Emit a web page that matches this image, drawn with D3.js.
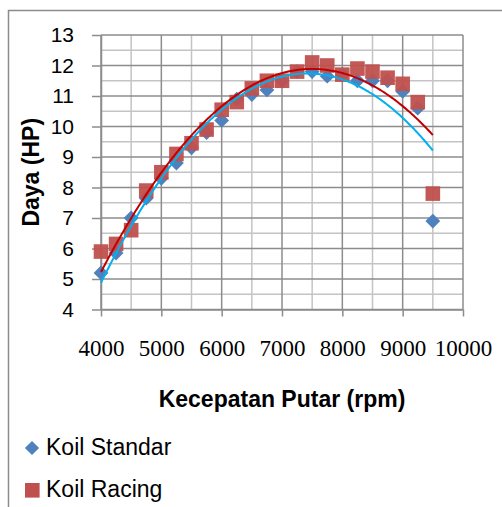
<!DOCTYPE html>
<html>
<head>
<meta charset="utf-8">
<script src="https://cdn.jsdelivr.net/npm/d3@7"></script>
<style>
  body { margin: 0; background: #fff; }
  text { fill: #000; }
</style>
</head>
<body>
<div id="chart"></div>
<script>
// data
const rpm = [4000, 4250, 4500, 4750, 5000, 5250, 5500, 5750, 6000, 6250, 6500, 6750,
             7000, 7250, 7500, 7750, 8000, 8250, 8500, 8750, 9000, 9250, 9500];
const koilStandar = [5.2, 5.85, 7.0, 7.65, 8.3, 8.8, 9.3, 9.8, 10.2, 10.9, 11.05, 11.2,
                     11.5, 11.8, 11.8, 11.65, 11.7, 11.5, 11.5, 11.5, 11.15, 10.6, 6.9];
const koilRacing = [5.9, 6.15, 6.6, 7.9, 8.5, 9.1, 9.45, 9.9, 10.55, 10.8, 11.25, 11.5,
                    11.5, 11.8, 12.1, 12.0, 11.7, 11.9, 11.8, 11.6, 11.4, 10.8, 7.8];
const seriesNames = ['Koil Standar', 'Koil Racing'];
const xTicks = [4000, 5000, 6000, 7000, 8000, 9000, 10000];
const xMinor = [4500, 5500, 6500, 7500, 8500, 9500];
const yTicks = [4, 5, 6, 7, 8, 9, 10, 11, 12, 13];
const yMinor = [4.5, 5.5, 6.5, 7.5, 8.5, 9.5, 10.5, 11.5, 12.5];

const width = 502, height = 507;
const m = {left: 101, right: 463, top: 35, bottom: 309.5};

const svg = d3.select('#chart').append('svg')
    .attr('width', width)
    .attr('height', height);

// chart frame (runs off the right and bottom edges)
svg.append('rect')
    .attr('x', 8.5).attr('y', 10.5)
    .attr('width', 600).attr('height', 600)
    .attr('fill', 'none')
    .attr('stroke', '#8c8c8c')
    .attr('stroke-width', 1.5);

const x = d3.scaleLinear().domain([4000, 10000]).range([m.left, m.right]);
const y = d3.scaleLinear().domain([4, 13]).range([m.bottom, m.top]);

// minor grid
const grid = svg.append('g');
grid.selectAll('.vmin').data(xMinor).enter().append('line')
    .attr('x1', d => x(d)).attr('x2', d => x(d))
    .attr('y1', m.top).attr('y2', m.bottom)
    .attr('stroke', '#c4c4c4').attr('stroke-width', 1.5);
grid.selectAll('.hmin').data(yMinor).enter().append('line')
    .attr('x1', m.left).attr('x2', m.right)
    .attr('y1', d => y(d)).attr('y2', d => y(d))
    .attr('stroke', '#c4c4c4').attr('stroke-width', 1.5);
// major grid
grid.selectAll('.vmaj').data(xTicks).enter().append('line')
    .attr('x1', d => x(d)).attr('x2', d => x(d))
    .attr('y1', m.top).attr('y2', m.bottom)
    .attr('stroke', '#8c8c8c').attr('stroke-width', 1.5);
grid.selectAll('.hmaj').data(yTicks).enter().append('line')
    .attr('x1', m.left).attr('x2', m.right)
    .attr('y1', d => y(d)).attr('y2', d => y(d))
    .attr('stroke', '#8c8c8c').attr('stroke-width', 1.5);

// axes
const xAxis = svg.append('g')
    .attr('transform', `translate(0,${m.bottom})`)
    .call(d3.axisBottom(x).tickValues(xTicks).tickSize(7).tickSizeOuter(0).tickFormat(d3.format('d')));
xAxis.select('.domain').attr('stroke', '#8c8c8c').attr('stroke-width', 1.5);
xAxis.selectAll('line').attr('stroke', '#8c8c8c').attr('stroke-width', 1.5);
xAxis.selectAll('text')
    .attr('y', 46).attr('dy', 0)
    .style('font-family', '"Liberation Serif", serif')
    .style('font-size', '23px');

const yAxis = svg.append('g')
    .attr('transform', `translate(${m.left},0)`)
    .call(d3.axisLeft(y).tickValues(yTicks).tickSize(9).tickSizeOuter(0).tickPadding(18));
yAxis.select('.domain').attr('stroke', '#8c8c8c').attr('stroke-width', 1.5);
yAxis.selectAll('line').attr('stroke', '#8c8c8c').attr('stroke-width', 1.5);
yAxis.selectAll('text')
    .style('font-family', '"Liberation Sans", Arial, sans-serif')
    .style('font-size', '21px');

// titles
svg.append('text')
    .attr('x', 282).attr('y', 407)
    .attr('text-anchor', 'middle')
    .style('font-family', '"Liberation Sans", Arial, sans-serif')
    .style('font-weight', 'bold')
    .style('font-size', '23px')
    .text('Kecepatan Putar (rpm)');

svg.append('text')
    .attr('transform', `translate(39,${(m.top + m.bottom) / 2}) rotate(-90)`)
    .attr('text-anchor', 'middle')
    .style('font-family', '"Liberation Sans", Arial, sans-serif')
    .style('font-weight', 'bold')
    .style('font-size', '23px')
    .text('Daya (HP)');

// quadratic least-squares trendline (as the spreadsheet does)
function polyFit(xs, ys) {
    const u = xs.map(v => v / 1000);
    const s = [0, 0, 0, 0, 0], t = [0, 0, 0];
    u.forEach((v, i) => {
        for (let k = 0; k < 5; k++) s[k] += Math.pow(v, k);
        for (let k = 0; k < 3; k++) t[k] += Math.pow(v, k) * ys[i];
    });
    const A = [[s[0], s[1], s[2], t[0]], [s[1], s[2], s[3], t[1]], [s[2], s[3], s[4], t[2]]];
    for (let c = 0; c < 3; c++) {
        for (let r = c + 1; r < 3; r++) {
            const f = A[r][c] / A[c][c];
            for (let k = c; k < 4; k++) A[r][k] -= f * A[c][k];
        }
    }
    const b = [0, 0, 0];
    for (let r = 2; r >= 0; r--) {
        let sum = A[r][3];
        for (let k = r + 1; k < 3; k++) sum -= A[r][k] * b[k];
        b[r] = sum / A[r][r];
    }
    return v => b[0] + b[1] * (v / 1000) + b[2] * Math.pow(v / 1000, 2);
}

const line = d3.line().x(d => x(d[0])).y(d => y(d[1]));
function trend(vals) {
    const f = polyFit(rpm, vals);
    return d3.range(rpm[0], rpm[rpm.length - 1] + 1, 25).map(v => [v, f(v)]);
}

// Koil Standar markers
svg.append('g').selectAll('path')
    .data(rpm.map((r, i) => [r, koilStandar[i]]))
    .enter().append('path')
    .attr('d', d3.symbol().type(d3.symbolSquare).size(110))
    .attr('transform', d => `translate(${x(d[0])},${y(d[1])}) rotate(45)`)
    .attr('fill', '#4f81bd');

// Koil Racing markers
svg.append('g').selectAll('rect')
    .data(rpm.map((r, i) => [r, koilRacing[i]]))
    .enter().append('rect')
    .attr('x', d => x(d[0]) - 7.3).attr('y', d => y(d[1]) - 7.3)
    .attr('width', 14.6).attr('height', 14.6)
    .attr('fill', '#c0504d')
    .attr('opacity', 0.95);

// trendlines
svg.append('path')
    .datum(trend(koilStandar))
    .attr('d', line)
    .attr('fill', 'none')
    .attr('stroke', '#00b0f0')
    .attr('stroke-width', 2);
svg.append('path')
    .datum(trend(koilRacing))
    .attr('d', line)
    .attr('fill', 'none')
    .attr('stroke', '#c00000')
    .attr('stroke-width', 2);

// legend
const legend = svg.append('g');
legend.append('path')
    .attr('d', d3.symbol().type(d3.symbolSquare).size(100))
    .attr('transform', 'translate(32,448) rotate(45)')
    .attr('fill', '#4f81bd');
legend.append('rect')
    .attr('x', 25).attr('y', 483).attr('width', 14.6).attr('height', 14.6)
    .attr('fill', '#c0504d');
legend.selectAll('text')
    .data(seriesNames)
    .enter().append('text')
    .attr('x', 46)
    .attr('y', (d, i) => 455 + i * 42)
    .style('font-family', '"Liberation Sans", Arial, sans-serif')
    .style('font-size', '23px')
    .text(d => d);
</script>
</body>
</html>
